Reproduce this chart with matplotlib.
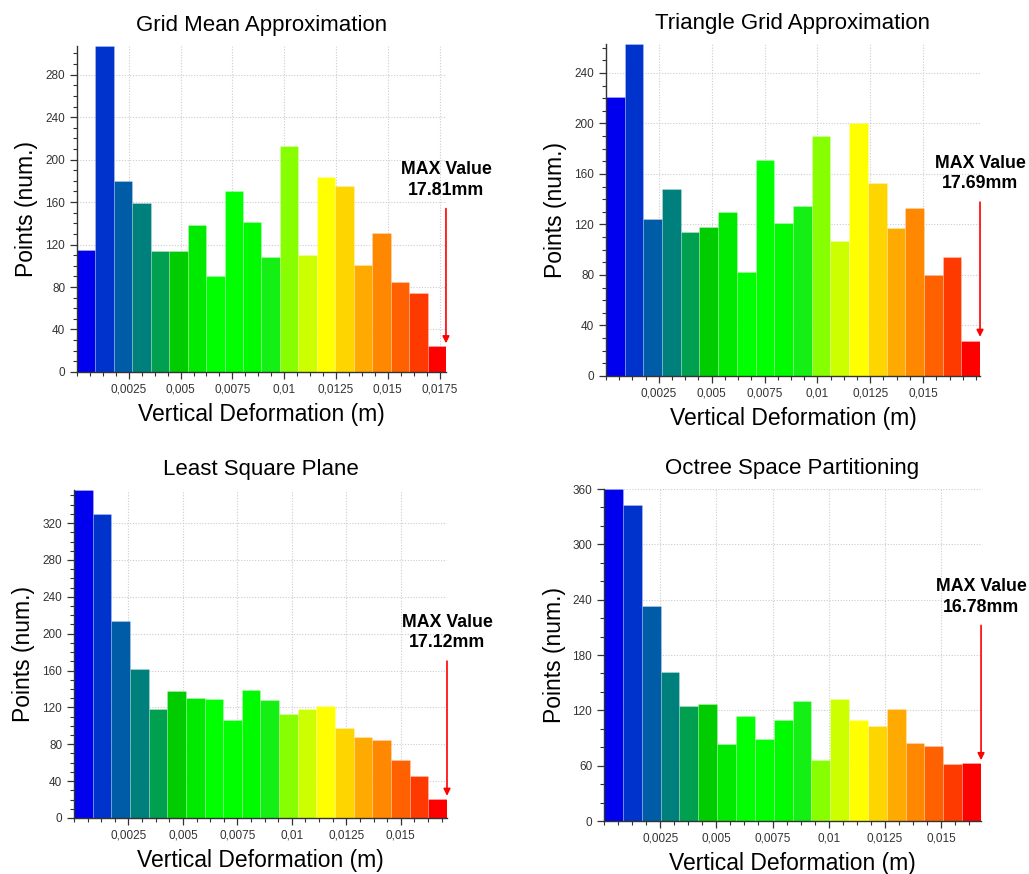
import matplotlib
matplotlib.use("Agg")
import matplotlib.pyplot as plt
from matplotlib import font_manager
from matplotlib.ticker import MultipleLocator, AutoMinorLocator, FuncFormatter
import numpy as np

# ── histogram counts (20 bins from 0 to the max deformation) ──
titles = ["Grid Mean Approximation", "Triangle Grid Approximation",
          "Least Square Plane", "Octree Space Partitioning"]
max_mm = [17.81, 17.69, 17.12, 16.78]

grid_mean = [115, 307, 180, 159, 114, 114, 138, 90, 170, 141,
             108, 213, 110, 184, 175, 101, 131, 85, 74, 24]
triangle_grid = [221, 263, 124, 148, 114, 118, 130, 82, 171, 121,
                 135, 190, 107, 200, 153, 117, 133, 80, 94, 28]
least_square = [356, 330, 214, 162, 118, 138, 130, 129, 106, 139,
                128, 113, 118, 122, 98, 88, 85, 63, 46, 21]
octree = [360, 343, 233, 162, 125, 127, 84, 114, 89, 110,
          130, 66, 132, 110, 103, 122, 85, 81, 62, 63]
counts = [grid_mean, triangle_grid, least_square, octree]

y_major = [40, 40, 40, 60]
x_major = 0.0025
x_last_label = [0.0175, 0.015, 0.015, 0.015]

bin_colors = ["#0000ee", "#0033cc", "#005ca6", "#00807c", "#00a050",
              "#00cc00", "#00ea00", "#00ff00", "#00ff00", "#00fa00",
              "#14f014", "#88ff00", "#ccff00", "#ffff00", "#ffd500",
              "#ffaa00", "#ff8800", "#ff6000", "#ff3a00", "#ff0000"]

# axes boxes [left, bottom, width, height] in figure fractions
boxes = [[0.0748, 0.5744, 0.3586, 0.3730],
         [0.5889, 0.5698, 0.3635, 0.3799],
         [0.0719, 0.0641, 0.3625, 0.3753],
         [0.5870, 0.0606, 0.3664, 0.3799]]

names = {f.name for f in font_manager.fontManager.ttflist}
tick_font = "Liberation Sans Narrow" if "Liberation Sans Narrow" in names else "Liberation Sans"
plt.rcParams["font.family"] = ["Liberation Sans", "DejaVu Sans"]

fig = plt.figure(figsize=(10.29, 8.74), dpi=100)

for title, mx, vals, ystep, last_lab, box in zip(titles, max_mm, counts, y_major,
                                                  x_last_label, boxes):
    ax = fig.add_axes(box)
    xmax = mx / 1000.0
    edges = np.linspace(0, xmax, len(vals) + 1)
    width = edges[1] - edges[0]
    ax.bar(edges[:-1], vals, width=width, align="edge", color=bin_colors,
           edgecolor=(1, 1, 1, 0.3), linewidth=0.5, zorder=2)

    ax.set_xlim(0, xmax)
    ax.set_ylim(0, max(vals))
    ax.set_axisbelow(True)

    # x ticks: labelled every 0.0025 (comma decimals), no label at 0
    xt = np.arange(x_major, last_lab + 1e-9, x_major)
    ax.set_xticks(xt)
    ax.xaxis.set_major_formatter(FuncFormatter(lambda v, p: f"{v:g}".replace(".", ",")))
    ax.xaxis.set_minor_locator(MultipleLocator(x_major / 4))
    ax.yaxis.set_major_locator(MultipleLocator(ystep))
    ax.yaxis.set_minor_locator(AutoMinorLocator(4 if ystep == 40 else 3))

    ax.grid(True, which="major", color="#cccccc", linestyle=(0, (1, 1.5)), linewidth=0.8)
    for s in ["top", "right"]:
        ax.spines[s].set_visible(False)
    for s in ["left", "bottom"]:
        ax.spines[s].set_color("#333333")
        ax.spines[s].set_linewidth(1.0)
    ax.tick_params(axis="both", which="major", length=5, width=0.9, color="#333333",
                   labelsize=8.5, labelcolor="#333333")
    ax.tick_params(axis="both", which="minor", length=3, width=0.8, color="#333333")
    for lab in ax.get_xticklabels() + ax.get_yticklabels():
        lab.set_fontfamily(tick_font)

    ax.set_title(title, fontsize=16, pad=11)
    ax.set_xlabel("Vertical Deformation (m)", fontsize=16.5, labelpad=5)
    ax.set_ylabel("Points (num.)", fontsize=16.5, labelpad=5)

    # red arrow marking the maximum deformation
    ax.annotate("", xy=(xmax, vals[-1] + 3), xycoords="data",
                xytext=(0, 97), textcoords="offset points",
                arrowprops=dict(arrowstyle="-|>", color="red", lw=1.2,
                                mutation_scale=10, shrinkA=0, shrinkB=0))
    ax.annotate(f"MAX Value\n{mx:.2f}mm", xy=(xmax, vals[-1] + 3), xycoords="data",
                xytext=(0, 104), textcoords="offset points",
                ha="center", va="bottom", fontsize=12.8, fontweight="bold",
                linespacing=1.3, annotation_clip=False)

fig.savefig("out.png", dpi=100)
